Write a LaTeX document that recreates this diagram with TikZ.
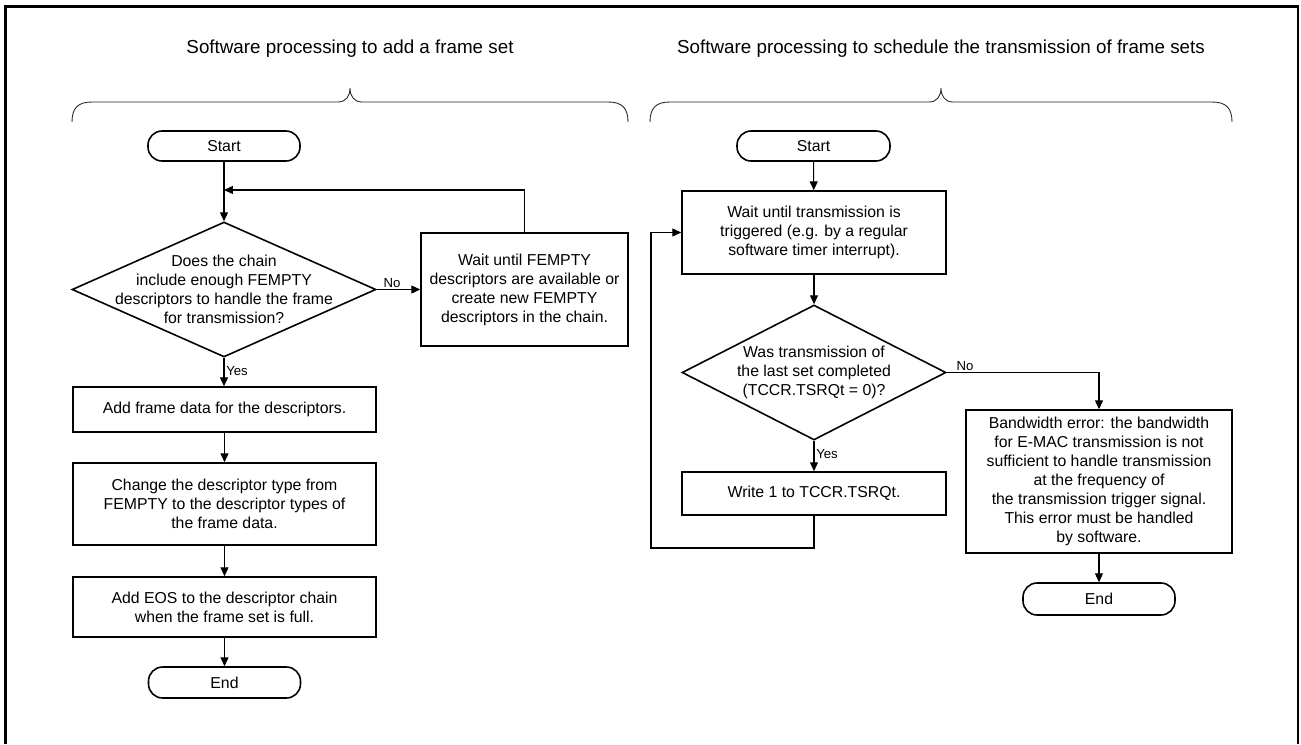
\documentclass[tikz,border=0pt]{standalone}
\usepackage{fontspec}
\setmainfont{Liberation Sans}
\usetikzlibrary{arrows.meta,shapes.geometric}
\tikzset{
  ln/.style  ={draw=black, line width=0.6pt},
  arr/.style ={ln, -{Triangle[length=5pt,width=4.5pt]}},
  box/.style ={draw=black, line width=0.9pt, align=center, inner sep=2pt, font=\fontsize{9}{10.8}\selectfont},
  term/.style={box, rounded corners=8pt},
  dec/.style ={draw=black, line width=0.9pt, diamond, inner sep=0pt},
  txt/.style ={align=center, inner sep=0pt, font=\fontsize{9}{10.8}\selectfont},
  lab/.style ={font=\fontsize{7.5}{9}\selectfont, inner sep=1pt},
  ttl/.style ={font=\fontsize{10.7}{12.8}\selectfont},
  brc/.style ={draw=black!85, line width=0.5pt},
}
\begin{document}
\begin{tikzpicture}[x=0.02cm,y=-0.02cm]
  \useasboundingbox (0,0) rectangle (1301,744);
  \draw[draw=black,line width=1.5pt] (5.5,744) -- (5.5,6.5) -- (1298,6.5) -- (1298,744);

  \node[ttl] (ttlA) at (350,49) {Software processing to add a frame set};
  \node[ttl] (ttlB) at (941,49) {Software processing to schedule the transmission of frame sets};
  \draw[brc] (72,122) .. controls (72,108) and (78,102) .. (92,102) -- (338,102) .. controls (346,102) and (350,96) .. (350,88) .. controls (350,96) and (354,102) .. (362,102) -- (608,102) .. controls (622,102) and (628,108) .. (628,122);
  \draw[brc] (650,122) .. controls (650,108) and (656,102) .. (670,102) -- (929,102) .. controls (937,102) and (941,96) .. (941,88) .. controls (941,96) and (945,102) .. (953,102) -- (1212,102) .. controls (1226,102) and (1232,108) .. (1232,122);

  \node[term,minimum width=3.04cm,minimum height=0.6cm] (startA) at (224,146) {Start};
  \node[dec,minimum width=6.08cm,minimum height=2.7cm] (decA) at (224,289.5) {};
  \node[txt] (decAtxt) at (decA) {Does the chain\\include enough FEMPTY\\descriptors to handle the frame\\for transmission?};
  \node[box,minimum width=4.14cm,minimum height=2.26cm] (waitA) at (524.5,289.5) {Wait until FEMPTY\\descriptors are available or\\create new FEMPTY\\descriptors in the chain.};
  \node[box,minimum width=6.06cm,minimum height=0.9cm] (addA) at (224.5,409.5) {Add frame data for the descriptors.};
  \node[box,minimum width=6.06cm,minimum height=1.64cm] (chgA) at (224.5,504) {Change the descriptor type from\\FEMPTY to the descriptor types of\\the frame data.};
  \node[box,minimum width=6.06cm,minimum height=1.2cm] (eosA) at (224.5,607) {Add EOS to the descriptor chain\\when the frame set is full.};
  \node[term,minimum width=3.04cm,minimum height=0.62cm] (endA) at (224.5,682.5) {End};
  \coordinate (joinA) at (224,190);

  \draw[arr] (startA) -- (decA.north);
  \draw[arr] (waitA.north) |- (joinA);
  \draw[arr] (decA.east) -- node[lab,above,pos=0.35] {No} (waitA.west);
  \draw[arr] (decA.south) -- node[lab,right,pos=0.45] {Yes} (addA.north -| decA.south);
  \draw[arr] (addA) -- (chgA);
  \draw[arr] (chgA) -- (eosA);
  \draw[arr] (eosA) -- (endA);

  \node[term,minimum width=3.06cm,minimum height=0.6cm] (startB) at (813.5,146) {Start};
  \node[box,minimum width=5.28cm,minimum height=1.66cm] (waitB) at (814,232.5) {Wait until transmission is\\triggered (e.g. by a regular\\software timer interrupt).};
  \node[dec,minimum width=5.28cm,minimum height=2.7cm] (decB) at (814,372.5) {};
  \node[txt] (decBtxt) at (decB) {Was transmission of\\the last set completed\\(TCCR.TSRQt = 0)?};
  \node[box,minimum width=5.28cm,minimum height=0.86cm] (wrtB) at (814,493.5) {Write 1 to TCCR.TSRQt.};
  \node[box,minimum width=5.32cm,minimum height=2.86cm] (bwB) at (1099,481.5) {Bandwidth error: the bandwidth\\for E-MAC transmission is not\\sufficient to handle transmission\\at the frequency of\\the transmission trigger signal.\\This error must be handled\\by software.};
  \node[term,minimum width=3.04cm,minimum height=0.64cm] (endB) at (1099,599) {End};
  \coordinate (loopB) at (651,548);

  \draw[arr] (startB) -- (waitB);
  \draw[arr] (waitB) -- (decB.north);
  \draw[arr] (decB.south) -- node[lab,right,pos=0.45] {Yes} (wrtB.north);
  \draw[arr] (wrtB.south) |- (loopB) |- (waitB.west);
  \draw[arr] (decB.east) -| node[lab,above,pos=0.06] {No} (bwB.north);
  \draw[arr] (bwB) -- (endB);
\end{tikzpicture}
\end{document}
